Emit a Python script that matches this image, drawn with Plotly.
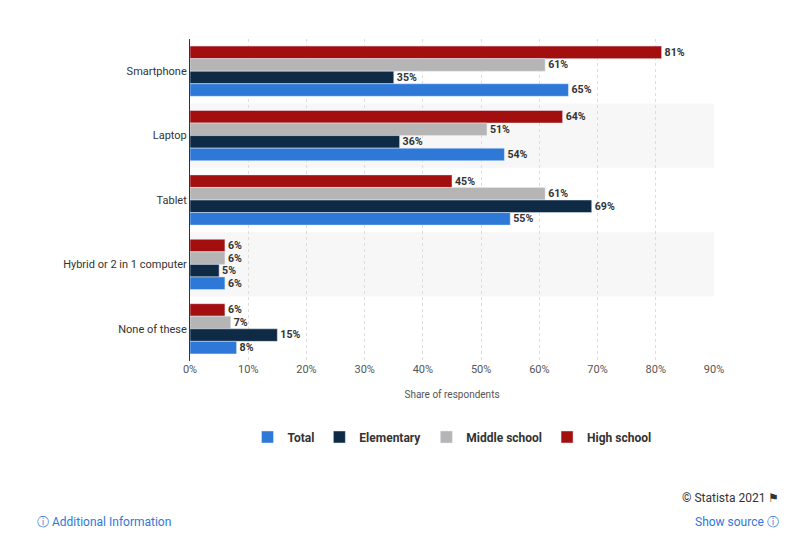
import plotly.graph_objects as go

categories = ["Smartphone", "Laptop", "Tablet", "Hybrid or 2 in 1 computer", "None of these"]
high_school = [81, 64, 45, 6, 6]
middle_school = [61, 51, 61, 6, 7]
elementary = [35, 36, 69, 5, 15]
total = [65, 54, 55, 6, 8]

series = [
    ("High school", high_school, "#a30f0f"),
    ("Middle school", middle_school, "#b5b5b5"),
    ("Elementary", elementary, "#0f2a45"),
    ("Total", total, "#2e78d8"),
]

fig = go.Figure()
for name, values, color in series:
    fig.add_trace(go.Bar(
        y=categories, x=values, name=f"<b>{name}</b>", orientation="h",
        marker_color=color,
        text=[f"<b>{v}%</b>" for v in values], textposition="outside",
        textfont=dict(size=11, color="#333333", family="Roboto"),
        cliponaxis=False,
    ))

# alternating row bands
for i in (1, 3):
    fig.add_shape(type="rect", xref="paper", yref="y", x0=0, x1=1,
                  y0=i - 0.5, y1=i + 0.5, fillcolor="#f7f7f7",
                  line_width=0, layer="below")

fig.update_layout(
    width=800, height=557,
    barmode="group", bargap=0.22, bargroupgap=0,
    plot_bgcolor="white", paper_bgcolor="white",
    margin=dict(l=182, r=94, t=31, b=204),
    font=dict(family="Roboto", size=11, color="#555555"),
    xaxis=dict(range=[0, 90], dtick=10, ticksuffix="%", showgrid=True,
               gridcolor="#dddddd", griddash="dot", zeroline=False,
               title=dict(text="Share of respondents", font=dict(size=10)),
               tickfont=dict(size=11)),
    yaxis=dict(autorange="reversed", showline=True, linecolor="#333333",
               tickfont=dict(size=11, color="#333333")),
    legend=dict(orientation="h", x=0.5, xanchor="center", y=-0.236, yanchor="middle",
                traceorder="reversed", font=dict(size=12, color="#333333")),
    annotations=[
        dict(text="© Statista 2021 ⚑", xref="paper", yref="paper",
             x=1.128, y=-0.425, xanchor="right", yanchor="middle", showarrow=False,
             font=dict(size=12, color="#333333")),
        dict(text="ⓘ Additional Information", xref="paper", yref="paper",
             x=-0.296, y=-0.5, xanchor="left", yanchor="middle", showarrow=False,
             font=dict(size=12, color="#2e78d8")),
        dict(text="Show source ⓘ", xref="paper", yref="paper",
             x=1.128, y=-0.5, xanchor="right", yanchor="middle", showarrow=False,
             font=dict(size=12, color="#2e78d8")),
    ],
)

fig.write_html("out.html")
